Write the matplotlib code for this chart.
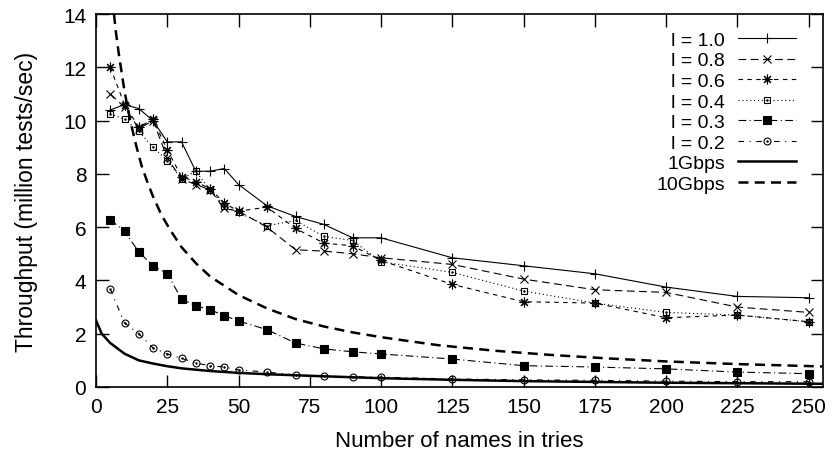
import matplotlib
matplotlib.use("Agg")
import matplotlib.pyplot as plt
from matplotlib.legend_handler import HandlerTuple

plt.rcParams['font.family'] = ['Liberation Sans', 'DejaVu Sans']

# 名字数量 (x)
names = [5, 10, 15, 20, 25, 30, 35, 40, 45, 50, 60, 70, 80, 90, 100, 125, 150, 175, 200, 225, 250]

# 各负载下的吞吐量 (million tests/sec)
l10 = [10.4, 10.6, 10.45, 10.0, 9.2, 9.2, 8.1, 8.1, 8.2, 7.6, 6.8, 6.4, 6.1, 5.6, 5.6, 4.85, 4.55, 4.25, 3.75, 3.4, 3.35]
l08 = [11.0, 10.5, 9.7, 10.0, 8.6, 7.8, 7.6, 7.4, 6.7, 6.6, 6.0, 5.15, 5.1, 5.0, 4.85, 4.6, 4.05, 3.65, 3.55, 3.0, 2.8]
l06 = [12.0, 10.6, 9.75, 10.05, 8.9, 7.9, 7.7, 7.45, 6.9, 6.6, 6.75, 5.95, 5.4, 5.3, 4.75, 3.85, 3.2, 3.15, 2.6, 2.7, 2.45]
l04 = [10.25, 10.05, 9.6, 9.0, 8.5, 7.8, 8.1, 7.4, 6.8, 6.55, 6.05, 6.25, 5.65, 5.5, 4.7, 4.3, 3.6, 3.15, 2.8, 2.7, 2.45]
l03 = [6.28, 5.85, 5.07, 4.55, 4.25, 3.3, 3.05, 2.9, 2.68, 2.48, 2.15, 1.65, 1.43, 1.32, 1.24, 1.05, 0.8, 0.75, 0.68, 0.56, 0.5]
l02 = [3.68, 2.4, 2.0, 1.47, 1.24, 1.08, 0.9, 0.8, 0.75, 0.64, 0.56, 0.45, 0.41, 0.38, 0.37, 0.3, 0.27, 0.25, 0.22, 0.2, 0.2]

# 链路速率曲线
g1_x = [0, 2, 5, 10, 15, 20, 25, 30, 40, 50, 60, 75, 100, 125, 150, 200, 255]
g1_y = [2.5, 2.0, 1.65, 1.25, 1.0, 0.88, 0.78, 0.7, 0.6, 0.53, 0.48, 0.42, 0.33, 0.27, 0.22, 0.16, 0.12]
g10_x = [6.3, 7, 8, 9, 10, 12, 14, 16, 18, 20, 23, 26, 30, 35, 40, 45, 50, 60, 70, 80, 90, 100,
         120, 140, 160, 180, 200, 225, 255]
g10_y = [14.0, 13.3, 12.5, 11.8, 11.1, 10.0, 9.1, 8.3, 7.7, 7.15, 6.45, 5.9, 5.25, 4.65, 4.15, 3.8,
         3.45, 2.95, 2.55, 2.27, 2.05, 1.87, 1.57, 1.36, 1.2, 1.07, 0.96, 0.86, 0.77]

x_ticks = [0, 25, 50, 75, 100, 125, 150, 175, 200, 225, 250]
y_ticks = [0, 2, 4, 6, 8, 10, 12, 14]

fig = plt.figure(figsize=(8.32, 4.52), dpi=100)
ax = fig.add_axes([0.1154, 0.1416, 0.989 - 0.1154, 0.9668 - 0.1416])

lw = 0.8
c = 'black'

h10, = ax.plot(names, l10, color=c, lw=lw, marker='+', ms=7, mew=0.8)
h08, = ax.plot(names, l08, color=c, lw=lw, dashes=(7, 4), marker='x', ms=6, mew=0.8)
h06, = ax.plot(names, l06, color=c, lw=lw, dashes=(4, 4), marker=(8, 2, 0), ms=7, mew=0.8)
h04, = ax.plot(names, l04, color=c, lw=lw, dashes=(1, 2.5), marker='s', ms=5, mfc='none', mew=0.8)
h04d, = ax.plot(names, l04, ls='none', color=c, marker='.', ms=1.5)
h03, = ax.plot(names, l03, color=c, lw=lw, dashes=(7, 3, 1, 3), marker='s', ms=5.5, mfc=c, mew=0.8)
h02, = ax.plot(names, l02, color=c, lw=lw, dashes=(5, 5, 1, 5), marker='o', ms=5, mfc='none', mew=0.8)
h02d, = ax.plot(names, l02, ls='none', color=c, marker='.', ms=1.5)
hg1, = ax.plot(g1_x, g1_y, color=c, lw=1.8)
hg10, = ax.plot(g10_x, g10_y, color=c, lw=1.8, dashes=(4, 2.5))

ax.set_xlim(0, 255)
ax.set_ylim(0, 14)
ax.set_xticks(x_ticks)
ax.set_yticks(y_ticks)
ax.tick_params(direction='in', length=9, width=1.0, top=True, right=True, pad=7, labelsize=15)
for s in ax.spines.values():
    s.set_linewidth(1.2)

ax.set_xlabel("Number of names in tries", fontsize=16, labelpad=10)
ax.set_ylabel("Throughput (million tests/sec)", fontsize=16.5, labelpad=18)

handles = [h10, h08, h06, (h04, h04d), h03, (h02, h02d), hg1, hg10]
labels = ["l = 1.0", "l = 0.8", "l = 0.6", "l = 0.4", "l = 0.3", "l = 0.2", "1Gbps", "10Gbps"]
ax.legend(handles, labels, loc='upper right', bbox_to_anchor=(0.982, 0.99), frameon=False,
          markerfirst=False, fontsize=14, handlelength=3.0, handletextpad=0.65,
          labelspacing=0.15, borderpad=0.2, numpoints=1,
          handler_map={tuple: HandlerTuple(ndivide=1, pad=0)})

fig.savefig("out.png", dpi=100)
